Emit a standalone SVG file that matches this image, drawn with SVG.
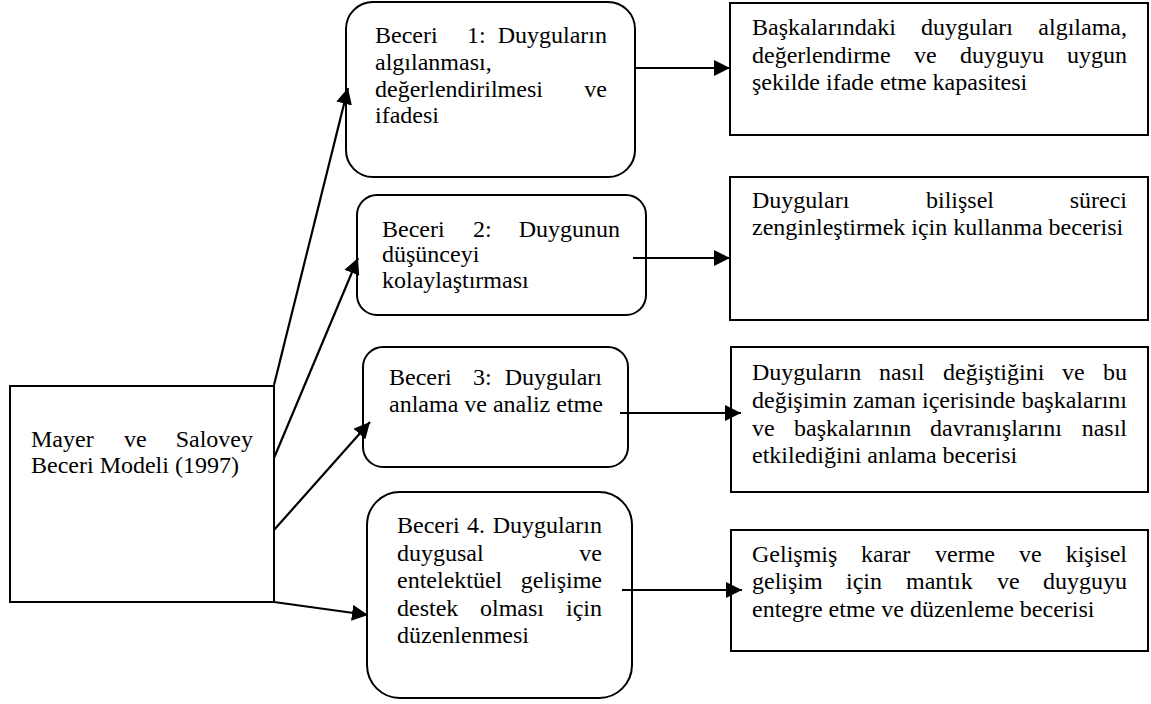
<svg xmlns="http://www.w3.org/2000/svg" width="1151" height="704" viewBox="0 0 1151 704">
<style>
.box{fill:#fff;stroke:#000;stroke-width:2}
.t{font-size:24px;fill:#000}
.e{text-anchor:end}
.c{fill:none;stroke:#000;stroke-width:2.2}
</style>
<defs>
<marker id="ah" markerUnits="userSpaceOnUse" markerWidth="16" markerHeight="16" viewBox="0 0 16 16" refX="16" refY="8" orient="auto">
<path d="M0,0 L16,8 L0,16 Z" fill="#000"/>
</marker>
</defs>
<rect width="1151" height="704" fill="#fff"/>

<g font-family="Liberation Serif, Tinos, Times New Roman, DejaVu Serif, serif">
<g id="model">
<rect class="box" x="10" y="386" width="264" height="216"/>
<text class="t" x="31" y="447">Mayer</text>
<text class="t" x="124" y="447">ve</text>
<text class="t e" x="253" y="447">Salovey</text>
<text class="t" x="31" y="473">Beceri Modeli (1997)</text>
</g>

<g id="beceri1">
<rect class="box" x="346" y="2" width="289" height="175" rx="27"/>
<text class="t" x="375" y="43">Beceri</text>
<text class="t" x="467" y="43">1:</text>
<text class="t e" x="607" y="43">Duyguların</text>
<text class="t" x="375" y="70">algılanması,</text>
<text class="t" x="375" y="97">değerlendirilmesi</text>
<text class="t e" x="607" y="97">ve</text>
<text class="t" x="375" y="123">ifadesi</text>
</g>

<g id="beceri2">
<rect class="box" x="357" y="195" width="289" height="120" rx="20"/>
<text class="t" x="382" y="237">Beceri</text>
<text class="t" x="473" y="237">2:</text>
<text class="t e" x="620" y="237">Duygunun</text>
<text class="t" x="382" y="262">düşünceyi</text>
<text class="t" x="382" y="288">kolaylaştırması</text>
</g>

<g id="beceri3">
<rect class="box" x="363" y="347" width="265" height="120" rx="20"/>
<text class="t" x="389" y="385">Beceri</text>
<text class="t" x="473" y="385">3:</text>
<text class="t e" x="602" y="385">Duyguları</text>
<text class="t" x="389" y="412">anlama ve analiz etme</text>
</g>

<g id="beceri4">
<rect class="box" x="367" y="492" width="265" height="206" rx="33"/>
<text class="t" x="397" y="533">Beceri</text>
<text class="t" x="467" y="533">4.</text>
<text class="t e" x="602" y="533">Duyguların</text>
<text class="t" x="397" y="560.5">duygusal</text>
<text class="t e" x="602" y="560.5">ve</text>
<text class="t" x="397" y="588">entelektüel</text>
<text class="t e" x="602" y="588">gelişime</text>
<text class="t" x="397" y="615.5">destek</text>
<text class="t" x="480" y="615.5">olması</text>
<text class="t e" x="602" y="615.5">için</text>
<text class="t" x="397" y="643">düzenlenmesi</text>
</g>

<g id="desc1">
<rect class="box" x="730" y="3" width="418" height="132"/>
<text class="t" x="752" y="35">Başkalarındaki</text>
<text class="t" x="921" y="35">duyguları</text>
<text class="t e" x="1127" y="35">algılama,</text>
<text class="t" x="752" y="62.5">değerlendirme</text>
<text class="t" x="914" y="62.5">ve</text>
<text class="t" x="960" y="62.5">duyguyu</text>
<text class="t e" x="1127" y="62.5">uygun</text>
<text class="t" x="752" y="90">şekilde ifade etme kapasitesi</text>
</g>

<g id="desc2">
<rect class="box" x="730" y="177" width="418" height="143"/>
<text class="t" x="752" y="208">Duyguları</text>
<text class="t" x="926" y="208">bilişsel</text>
<text class="t e" x="1127" y="208">süreci</text>
<text class="t" x="752" y="235">zenginleştirmek için kullanma becerisi</text>
</g>

<g id="desc3">
<rect class="box" x="731" y="347" width="417" height="145"/>
<text class="t" x="752" y="380">Duyguların</text>
<text class="t" x="879" y="380">nasıl</text>
<text class="t" x="943" y="380">değiştiğini</text>
<text class="t" x="1062" y="380">ve</text>
<text class="t e" x="1127" y="380">bu</text>
<text class="t" x="752" y="408">değişimin</text>
<text class="t" x="853" y="408">zaman</text>
<text class="t" x="922" y="408">içerisinde</text>
<text class="t e" x="1127" y="408">başkalarını</text>
<text class="t" x="752" y="435.5">ve</text>
<text class="t" x="794" y="435.5">başkalarının</text>
<text class="t" x="930" y="435.5">davranışlarını</text>
<text class="t e" x="1127" y="435.5">nasıl</text>
<text class="t" x="752" y="463">etkilediğini anlama becerisi</text>
</g>

<g id="desc4">
<rect class="box" x="731" y="530" width="417" height="121"/>
<text class="t" x="752" y="562">Gelişmiş</text>
<text class="t" x="861" y="562">karar</text>
<text class="t" x="935" y="562">verme</text>
<text class="t" x="1019" y="562">ve</text>
<text class="t e" x="1127" y="562">kişisel</text>
<text class="t" x="752" y="589">gelişim</text>
<text class="t" x="846" y="589">için</text>
<text class="t" x="906" y="589">mantık</text>
<text class="t" x="997" y="589">ve</text>
<text class="t e" x="1127" y="589">duyguyu</text>
<text class="t" x="752" y="617">entegre etme ve düzenleme becerisi</text>
</g>
</g>

<g id="connectors">
<line class="c" x1="274" y1="385" x2="348" y2="88" marker-end="url(#ah)"/>
<line class="c" x1="274" y1="458" x2="358" y2="258" marker-end="url(#ah)"/>
<line class="c" x1="274" y1="530" x2="370" y2="422" marker-end="url(#ah)"/>
<line class="c" x1="274" y1="602" x2="368" y2="615" marker-end="url(#ah)"/>
<line class="c" x1="635" y1="68" x2="730" y2="68" marker-end="url(#ah)"/>
<line class="c" x1="633" y1="258" x2="730" y2="258" marker-end="url(#ah)"/>
<line class="c" x1="620" y1="413" x2="741" y2="413" marker-end="url(#ah)"/>
<line class="c" x1="622" y1="590" x2="742" y2="590" marker-end="url(#ah)"/>
</g>
</svg>
